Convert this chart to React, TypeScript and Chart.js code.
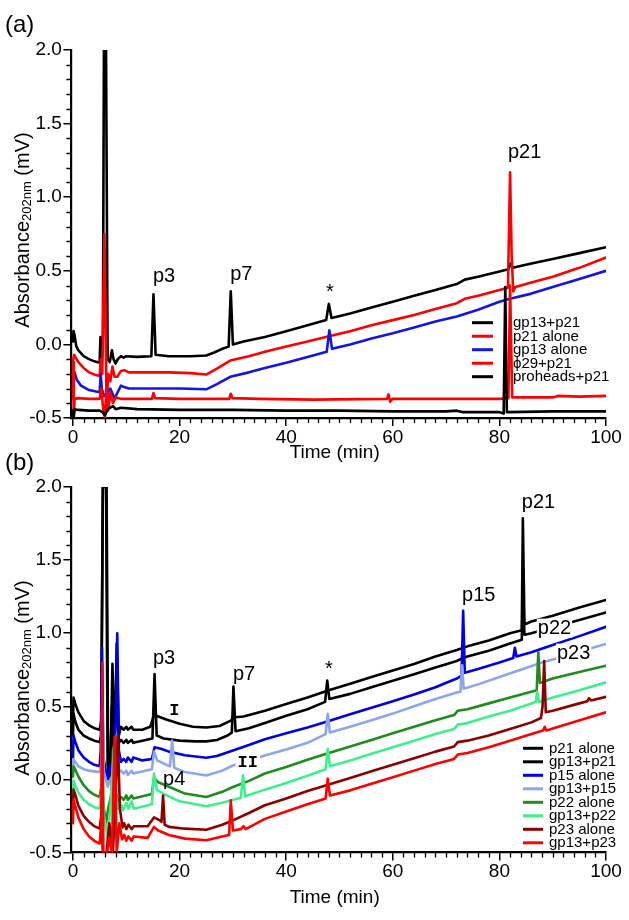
import React, { useEffect, useRef } from "react";
import { Chart, registerables } from "chart.js";
Chart.register(...registerables);

type Pt = [number, number];

// ---------------- axes ----------------
const xTickValues = [0, 20, 40, 60, 80, 100];
const yTickValues = [-0.5, 0, 0.5, 1.0, 1.5, 2.0];
const X_MINOR_STEP = 2;
const Y_MINOR_STEP = 0.1;

// ---------------- panel (a) data ----------------
const legendA = ["gp13+p21", "p21 alone", "gp13 alone", "\u03D529+p21", "proheads+p21"];

const a_gp13_p21: Pt[] = [
  [0, 0.02], [0.1, 0.09], [0.3, 0.06], [0.6, -0.01], [1, -0.04], [1.5, -0.06], [2, -0.08], [3, -0.1], [4, -0.115], [5, -0.125],
  [5.15, 0.05], [5.35, -0.1], [5.6, -0.05], [5.8, 2.0], [6.2, 2.0], [6.5, -0.1], [6.9, -0.12], [7.3, -0.04], [7.6, -0.1], [8, -0.13],
  [8.4, -0.1], [9, -0.08], [9.5, -0.09], [10, -0.08], [12, -0.085], [14.7, -0.08], [15.1, 0.34], [15.5, -0.07], [18, -0.08], [22, -0.08],
  [25, -0.075], [26.5, -0.055], [28, -0.03], [29.2, -0.015], [29.6, 0.36], [30, 0.0], [32, 0.02], [36, 0.05], [40, 0.09], [44, 0.13],
  [47.5, 0.165], [48, 0.275], [48.5, 0.18], [52, 0.21], [56, 0.25], [60, 0.29], [64, 0.33], [68, 0.37], [72, 0.41], [73.5, 0.44],
  [76, 0.46], [80, 0.495], [81.7, 0.51], [82.1, 0.55], [82.5, 0.52], [86, 0.55], [90, 0.58], [95, 0.62], [100, 0.66],
];
const a_p21_alone: Pt[] = [
  [0, -0.12], [0.2, -0.07], [0.5, -0.09], [1, -0.12], [2, -0.16], [3, -0.19], [4, -0.205], [5, -0.215], [5.2, -0.1], [5.5, -0.2],
  [5.9, 0.75], [6.1, 0.2], [6.3, -0.45], [6.6, -0.2], [7, -0.25], [7.4, -0.15], [7.8, -0.22], [8.3, -0.22], [9, -0.18], [9.6, -0.175],
  [10.5, -0.19], [14, -0.19], [18, -0.19], [22, -0.195], [25, -0.205], [27, -0.165], [29.5, -0.11], [33, -0.08], [36, -0.05], [40, -0.015],
  [44, 0.02], [48, 0.055], [52, 0.09], [56, 0.13], [60, 0.165], [64, 0.2], [68, 0.24], [72, 0.28], [73.5, 0.31], [76, 0.33],
  [80, 0.37], [81.6, 0.385], [82, 1.17], [82.3, 0.6], [82.6, 0.36], [83, 0.39], [86, 0.42], [90, 0.46], [95, 0.52], [100, 0.59],
];
const a_gp13_alone: Pt[] = [
  [0, -0.19], [0.3, -0.19], [0.7, -0.24], [1.5, -0.28], [3, -0.31], [5, -0.325], [5.2, -0.2], [5.4, -0.3], [5.8, -0.35], [6.4, -0.33],
  [7, -0.3], [7.8, -0.37], [8.3, -0.33], [9, -0.28], [9.6, -0.29], [10.5, -0.3], [15, -0.3], [20, -0.3], [25, -0.305], [27, -0.27],
  [29.5, -0.22], [33, -0.19], [36, -0.16], [40, -0.125], [44, -0.085], [47.6, -0.05], [48.1, 0.095], [48.6, -0.03], [52, 0.0], [56, 0.04],
  [60, 0.075], [64, 0.115], [68, 0.155], [72, 0.19], [76, 0.235], [80, 0.29], [82, 0.31], [86, 0.345], [90, 0.39], [95, 0.445], [100, 0.5],
];
const a_phi29_p21: Pt[] = [
  [0, -0.37], [0.05, -0.12], [0.15, -0.5], [0.3, -0.37], [1, -0.365], [3, -0.37], [5, -0.37], [5.3, -0.3], [5.7, -0.45], [6, -0.5],
  [6.3, -0.25], [6.6, -0.45], [7, -0.33], [7.5, -0.4], [8, -0.36], [9, -0.37], [14.8, -0.37], [15.1, -0.33], [15.4, -0.365], [20, -0.37],
  [25, -0.37], [29.3, -0.37], [29.6, -0.335], [29.9, -0.365], [35, -0.37], [45, -0.375], [58.9, -0.37], [59.2, -0.34], [59.5, -0.39], [59.9, -0.37],
  [70, -0.37], [80, -0.37], [81.7, -0.365], [82, 0.4], [82.4, -0.36], [90, -0.36], [91, -0.35], [95, -0.355], [100, -0.35],
];
const a_proheads_p21: Pt[] = [
  [0, -0.45], [0.1, -0.5], [0.3, -0.44], [1, -0.445], [3, -0.45], [5, -0.45], [5.5, -0.46], [6, -0.48], [6.5, -0.44], [7, -0.43],
  [7.5, -0.42], [8, -0.44], [9, -0.43], [12, -0.44], [20, -0.445], [30, -0.445], [40, -0.45], [50, -0.45], [60, -0.455], [70, -0.455],
  [72, -0.45], [73, -0.46], [80, -0.46], [80.8, -0.47], [81.1, 0.39], [81.4, -0.46], [81.8, -0.46], [90, -0.455], [100, -0.455],
];
const seriesA = [a_gp13_p21, a_p21_alone, a_gp13_alone, a_phi29_p21, a_proheads_p21];
const colorsA = ["#000000", "#ff0000", "#1414e6", "#ff0000", "#000000"];

// ---------------- panel (b) data ----------------
const legendB = ["p21 alone", "gp13+p21", "p15 alone", "gp13+p15", "p22 alone", "gp13+p22", "p23 alone", "gp13+p23"];

const b_p21_alone: Pt[] = [
  [0, 0.4], [0.1, 0.56], [0.4, 0.52], [1, 0.46], [2, 0.4], [3, 0.37], [4, 0.35], [5, 0.34], [5.3, 0.4], [5.6, 2.0], [6.3, 2.0],
  [6.6, 0.05], [7, 0.02], [7.4, 0.79], [7.8, 0.2], [8.2, 0.93], [8.6, 0.3], [9, 0.36], [9.5, 0.34], [10, 0.36], [10.3, 0.34], [11, 0.36],
  [11.3, 0.34], [13, 0.34], [14.5, 0.36], [15.2, 0.44], [16, 0.43], [17.5, 0.41], [20, 0.38], [22.5, 0.36], [25, 0.355], [27.5, 0.365],
  [29.5, 0.4], [30.3, 0.425], [32, 0.43], [36, 0.47], [40, 0.515], [44, 0.56], [48, 0.61], [52, 0.655], [56, 0.7], [60, 0.745],
  [64, 0.79], [68, 0.84], [72, 0.885], [74, 0.91], [78, 0.95], [82, 1.0], [84.2, 1.02], [84.4, 1.786], [84.7, 1.06], [86, 1.08],
  [90, 1.12], [95, 1.175], [100, 1.227],
];
const b_gp13_p21: Pt[] = [
  [0, 0.3], [0.1, 0.45], [0.4, 0.4], [1, 0.34], [2, 0.3], [3, 0.28], [4, 0.265], [5, 0.255], [5.3, 0.3], [5.6, 2.0], [6.2, 2.0],
  [6.5, 0.1], [6.9, 0.0], [7.3, 0.5], [7.7, 0.15], [8.1, 0.6], [8.6, 0.25], [9, 0.27], [9.5, 0.25], [10, 0.27], [10.3, 0.25], [11, 0.27],
  [11.3, 0.25], [14.9, 0.28], [15.3, 0.72], [15.7, 0.3], [17, 0.28], [20, 0.265], [23, 0.26], [25, 0.26], [27, 0.27], [29, 0.3],
  [29.8, 0.32], [30.1, 0.635], [30.5, 0.33], [33, 0.35], [36, 0.385], [40, 0.435], [44, 0.48], [47.3, 0.53], [47.7, 0.676], [48.1, 0.55],
  [52, 0.585], [56, 0.63], [60, 0.675], [64, 0.72], [68, 0.765], [72, 0.81], [73.2, 0.83], [74, 0.84], [78, 0.88], [82, 0.93],
  [84.2, 0.955], [84.4, 1.3], [84.7, 0.99], [86, 1.0], [90, 1.04], [95, 1.09], [100, 1.142],
];
const b_p15_alone: Pt[] = [
  [0, 0.15], [0.1, 0.3], [0.4, 0.26], [1, 0.2], [2, 0.15], [3, 0.12], [4, 0.1], [5, 0.09], [5.2, 0.2], [5.45, 0.9], [5.7, 0.15],
  [6.2, 0.05], [6.6, 0.0], [7, 0.1], [7.5, 0.05], [8, 0.4], [8.3, 1.0], [8.6, 0.2], [9, 0.12], [9.5, 0.14], [10, 0.12], [10.3, 0.15],
  [11, 0.12], [11.3, 0.15], [13, 0.13], [14.8, 0.14], [15.3, 0.22], [16.5, 0.21], [18, 0.19], [21, 0.165], [25, 0.148], [27, 0.16],
  [30, 0.198], [33, 0.235], [36, 0.275], [40, 0.315], [44, 0.355], [48, 0.4], [52, 0.445], [56, 0.49], [60, 0.535], [64, 0.58],
  [68, 0.63], [72, 0.69], [72.9, 0.71], [73.2, 1.154], [73.5, 0.73], [76, 0.755], [80, 0.8], [82.6, 0.83], [82.9, 0.9], [83.2, 0.84],
  [86, 0.87], [90, 0.92], [95, 0.98], [100, 1.044],
];
const b_gp13_p15: Pt[] = [
  [0, 0.05], [0.1, 0.14], [0.4, 0.12], [1, 0.09], [2, 0.07], [3, 0.06], [4, 0.055], [5, 0.05], [5.3, 0.1], [5.5, 0.5], [5.8, 0.05],
  [6.5, -0.05], [7, 0.0], [7.8, 0.05], [8.2, 0.3], [8.6, 0.05], [9, 0.06], [9.5, 0.04], [10, 0.06], [10.3, 0.03], [11, 0.06], [11.3, 0.04],
  [14.8, 0.07], [15.2, 0.19], [15.8, 0.13], [17.5, 0.1], [18.2, 0.09], [18.6, 0.266], [19, 0.08], [21, 0.05], [25, 0.027], [28, 0.06],
  [30, 0.095], [33, 0.13], [36, 0.164], [40, 0.205], [44, 0.25], [47.4, 0.31], [47.8, 0.448], [48.2, 0.32], [52, 0.36], [56, 0.405],
  [60, 0.45], [64, 0.5], [68, 0.55], [72, 0.595], [72.7, 0.6], [73, 0.78], [73.3, 0.62], [76, 0.65], [80, 0.7], [84, 0.75], [88, 0.8],
  [92, 0.84], [96, 0.885], [100, 0.926],
];
const b_p22_alone: Pt[] = [
  [0, 0.02], [0.1, 0.09], [0.4, 0.07], [1, 0.02], [2, -0.04], [3, -0.08], [4, -0.105], [5, -0.12], [5.3, -0.05], [5.6, -0.15],
  [6.2, -0.3], [6.6, -0.2], [7.2, -0.1], [7.5, 0.2], [7.8, -0.05], [8.4, -0.15], [9, -0.12], [9.5, -0.14], [10, -0.11], [10.3, -0.14],
  [11, -0.11], [11.3, -0.13], [14.8, -0.1], [15.2, 0.01], [16, -0.02], [18, -0.05], [21, -0.097], [25, -0.12], [28, -0.085], [30, -0.052],
  [33, -0.01], [36, 0.04], [40, 0.085], [44, 0.135], [48, 0.18], [52, 0.225], [56, 0.27], [60, 0.315], [64, 0.36], [68, 0.405],
  [71.5, 0.44], [72.2, 0.47], [74, 0.48], [78, 0.52], [82, 0.56], [86, 0.6], [87, 0.61], [87.3, 0.869], [87.6, 0.66], [90, 0.69],
  [95, 0.735], [100, 0.778],
];
const b_gp13_p22: Pt[] = [
  [0, -0.1], [0.1, -0.01], [0.4, -0.04], [1, -0.09], [2, -0.14], [3, -0.17], [4, -0.19], [5, -0.2], [5.3, -0.1], [5.5, 0.1],
  [5.8, -0.25], [6.5, -0.4], [7, -0.2], [7.7, 0.22], [8, -0.1], [8.5, -0.2], [9, -0.17], [9.4, -0.21], [10, -0.16], [10.4, -0.2],
  [11, -0.15], [11.4, -0.2], [14.8, -0.17], [15.2, 0.04], [15.7, -0.07], [17, -0.1], [20, -0.15], [25, -0.184], [28, -0.16], [31.5, -0.125],
  [31.9, 0.028], [32.3, -0.115], [36, -0.07], [40, -0.025], [44, 0.025], [47.4, 0.07], [47.8, 0.209], [48.2, 0.09], [52, 0.13], [56, 0.175],
  [60, 0.22], [64, 0.265], [68, 0.31], [71.5, 0.345], [72.2, 0.375], [74, 0.385], [78, 0.43], [82, 0.47], [86.8, 0.53], [87.1, 0.6],
  [87.4, 0.53], [90, 0.56], [95, 0.61], [100, 0.664],
];
const b_p23_alone: Pt[] = [
  [0, -0.2], [0.1, -0.07], [0.4, -0.1], [1, -0.18], [2, -0.25], [3, -0.29], [4, -0.32], [5, -0.337], [5.3, -0.25], [5.6, -0.5],
  [6.3, -0.5], [6.8, -0.3], [7.5, -0.5], [8.1, 0.0], [8.4, 0.3], [8.8, -0.2], [9.3, -0.33], [9.6, -0.3], [10, -0.34], [10.4, -0.31],
  [11, -0.34], [11.4, -0.32], [14, -0.32], [15.2, -0.26], [16.3, -0.28], [16.6, -0.29], [16.9, -0.11], [17.2, -0.31], [18, -0.325], [21, -0.337],
  [25, -0.344], [28, -0.31], [30, -0.28], [33, -0.23], [36, -0.177], [40, -0.13], [44, -0.08], [48, -0.035], [52, 0.01], [56, 0.055],
  [60, 0.1], [64, 0.145], [68, 0.19], [71.5, 0.225], [72.2, 0.255], [74, 0.265], [78, 0.3], [82, 0.345], [86, 0.39], [87.8, 0.42],
  [88.1, 0.5], [88.4, 0.81], [88.7, 0.46], [90, 0.47], [95, 0.52], [96.5, 0.535], [96.8, 0.555], [97.2, 0.54], [100, 0.565],
];
const b_gp13_p23: Pt[] = [
  [0, -0.3], [0.1, -0.14], [0.4, -0.18], [1, -0.26], [2, -0.34], [3, -0.39], [4, -0.42], [5, -0.44], [5.3, -0.3], [5.5, 0.8],
  [5.7, -0.5], [6.4, -0.5], [6.8, -0.4], [7.3, -0.5], [7.8, 0.29], [8.2, -0.5], [8.7, -0.3], [9.2, -0.41], [9.6, -0.38], [10, -0.42],
  [10.4, -0.39], [11, -0.42], [11.4, -0.39], [14, -0.4], [15.2, -0.325], [16, -0.35], [18, -0.38], [21, -0.405], [25, -0.416], [28, -0.39],
  [29.3, -0.38], [29.6, -0.143], [30, -0.35], [31.5, -0.34], [32, -0.32], [32.4, -0.34], [36, -0.27], [40, -0.22], [44, -0.17], [47.4, -0.13],
  [47.8, 0.005], [48.2, -0.11], [52, -0.075], [56, -0.03], [60, 0.015], [64, 0.06], [68, 0.105], [71.5, 0.14], [72.2, 0.17], [74, 0.18],
  [78, 0.22], [82, 0.265], [86, 0.31], [88.2, 0.335], [88.5, 0.36], [88.8, 0.335], [92, 0.37], [96, 0.415], [100, 0.459],
];
const seriesB = [b_p21_alone, b_gp13_p21, b_p15_alone, b_gp13_p15, b_p22_alone, b_gp13_p22, b_p23_alone, b_gp13_p23];
const colorsB = ["#000000", "#000000", "#0000e6", "#8ca5f0", "#1e8c1e", "#3cf08c", "#8c0000", "#ff0000"];

// ---------------- annotations ----------------
type Annot = { text: string; x: number; y: number; font?: string; center?: boolean; bg?: boolean };
const annotA: Annot[] = [
  { text: "p3", x: 15.0, y: 0.424 },
  { text: "p7", x: 29.5, y: 0.435 },
  { text: "*", x: 48.2, y: 0.355, center: true },
  { text: "p21", x: 81.6, y: 1.265 },
];
const annotB: Annot[] = [
  { text: "p3", x: 15.0, y: 0.79 },
  { text: "p7", x: 30.0, y: 0.68 },
  { text: "I", x: 19.0, y: 0.47, center: true, font: "bold 17px 'Liberation Mono'" },
  { text: "II", x: 32.8, y: 0.116, center: true, bg: true, font: "bold 17px 'Liberation Mono'" },
  { text: "p4", x: 16.9, y: -0.041 },
  { text: "*", x: 48.0, y: 0.75, center: true },
  { text: "p15", x: 73.0, y: 1.222 },
  { text: "p21", x: 84.2, y: 1.857 },
  { text: "p22", x: 87.2, y: 0.997, bg: true },
  { text: "p23", x: 90.8, y: 0.826, bg: true },
];

const FONT = "'Liberation Sans', Arial, sans-serif";

type Geom = {
  height: number;
  top: number;
  xAxisHeight: number;
  panelLabel: string;
  panelLabelY: number;
  yTitleY: number;
  xTitleY: number;
  legendTop: number;
  legendLineX: [number, number];
  legendTextX: number;
};

function makeDecor(geom: Geom, annots: Annot[], labels: string[], colors: string[]) {
  return {
    id: "decor",
    afterDraw(chart: any) {
      const ctx: CanvasRenderingContext2D = chart.ctx;
      const xs = chart.scales.x;
      const ys = chart.scales.y;
      const area = chart.chartArea;
      ctx.save();
      // minor ticks
      ctx.strokeStyle = "#000";
      ctx.lineWidth = 1.3;
      ctx.beginPath();
      for (let v = 0; v <= 100 + 1e-9; v += X_MINOR_STEP) {
        if (xTickValues.some((t) => Math.abs(t - v) < 1e-6)) continue;
        const px = Math.round(xs.getPixelForValue(v)) + 0.5;
        ctx.moveTo(px, area.bottom);
        ctx.lineTo(px, area.bottom + 5);
      }
      for (let k = -5; k <= 20; k++) {
        const v = k * Y_MINOR_STEP;
        if (yTickValues.some((t) => Math.abs(t - v) < 1e-6)) continue;
        const py = Math.round(ys.getPixelForValue(v)) + 0.5;
        ctx.moveTo(area.left - 5, py);
        ctx.lineTo(area.left, py);
      }
      ctx.stroke();

      // annotations
      ctx.fillStyle = "#000";
      for (const a of annots) {
        ctx.font = a.font || `20px ${FONT}`;
        const px = xs.getPixelForValue(a.x);
        const py = ys.getPixelForValue(a.y);
        const w = ctx.measureText(a.text).width;
        if (a.center) {
          ctx.textAlign = "center";
          ctx.textBaseline = "middle";
          if (a.bg) {
            ctx.fillStyle = "#fff";
            ctx.fillRect(px - w / 2 - 2, py - 9, w + 4, 18);
            ctx.fillStyle = "#000";
          }
          ctx.fillText(a.text, px, py);
        } else {
          ctx.textAlign = "left";
          ctx.textBaseline = "alphabetic";
          if (a.bg) {
            ctx.fillStyle = "#fff";
            ctx.fillRect(px - 1, py - 15, w + 2, 19);
            ctx.fillStyle = "#000";
          }
          ctx.fillText(a.text, px, py);
        }
      }

      // legend
      ctx.font = `15px ${FONT}`;
      ctx.textAlign = "left";
      ctx.textBaseline = "middle";
      labels.forEach((lab, i) => {
        const y = geom.legendTop + i * 13.5;
        ctx.strokeStyle = colors[i];
        ctx.lineWidth = 3;
        ctx.beginPath();
        ctx.moveTo(geom.legendLineX[0], y);
        ctx.lineTo(geom.legendLineX[1], y);
        ctx.stroke();
        ctx.fillStyle = "#000";
        ctx.fillText(lab, geom.legendTextX, y + 0.5);
      });

      // x title
      ctx.font = `19px ${FONT}`;
      ctx.textAlign = "center";
      ctx.textBaseline = "middle";
      ctx.fillText("Time (min)", (area.left + area.right) / 2 - 4, geom.xTitleY);

      // panel label
      ctx.font = `24px ${FONT}`;
      ctx.textAlign = "left";
      ctx.fillText(geom.panelLabel, 5, geom.panelLabelY);

      // y title with subscript
      ctx.translate(29, geom.yTitleY);
      ctx.rotate(-Math.PI / 2);
      const mainF = `20px ${FONT}`;
      const subF = `13px ${FONT}`;
      ctx.font = mainF;
      const w1 = ctx.measureText("Absorbance").width;
      const w3 = ctx.measureText(" (mV)").width;
      ctx.font = subF;
      const w2 = ctx.measureText("202nm").width;
      let x = -(w1 + w2 + w3) / 2;
      ctx.textAlign = "left";
      ctx.textBaseline = "alphabetic";
      ctx.font = mainF;
      ctx.fillText("Absorbance", x, 0);
      x += w1;
      ctx.font = subF;
      ctx.fillText("202nm", x, 2);
      x += w2;
      ctx.font = mainF;
      ctx.fillText(" (mV)", x, 0);
      ctx.restore();
    },
  };
}

function Panel(props: { series: Pt[][]; colors: string[]; labels: string[]; annots: Annot[]; geom: Geom; top: number }) {
  const ref = useRef<HTMLCanvasElement | null>(null);
  const { series, colors, labels, annots, geom, top } = props;
  useEffect(() => {
    if (!ref.current) return;
    const n = series.length;
    const chart = new Chart(ref.current, {
      type: "line",
      data: {
        datasets: series.map((s, i) => ({
          label: labels[i],
          data: s.map(([x, y]) => ({ x, y })),
          borderColor: colors[i],
          backgroundColor: colors[i],
          borderWidth: 2.6,
          pointRadius: 0,
          tension: 0,
          fill: false,
          order: n - i,
          borderJoinStyle: "round",
          borderCapStyle: "round",
        })),
      },
      options: {
        responsive: false,
        animation: false,
        events: [],
        layout: { padding: { top: geom.top, right: 23, left: 0, bottom: 0 } },
        plugins: { legend: { display: false }, tooltip: { enabled: false } },
        scales: {
          x: {
            type: "linear",
            min: -0.3,
            max: 100,
            afterBuildTicks: (s: any) => {
              s.ticks = xTickValues.map((v) => ({ value: v }));
            },
            afterFit: (s: any) => {
              s.height = geom.xAxisHeight;
            },
            grid: { display: true, drawOnChartArea: false, drawTicks: true, tickLength: 8, color: "#000", lineWidth: 1.5 },
            border: { display: true, color: "#000", width: 2.2 },
            ticks: {
              font: { family: FONT, size: 19 },
              color: "#000",
              padding: 0,
              maxRotation: 0,
              autoSkip: false,
              callback: (v: any) => String(v),
            },
          },
          y: {
            type: "linear",
            min: -0.5,
            max: 2.0,
            afterBuildTicks: (s: any) => {
              s.ticks = yTickValues.map((v) => ({ value: v }));
            },
            afterFit: (s: any) => {
              s.width = 71.4;
            },
            grid: { display: true, drawOnChartArea: false, drawTicks: true, tickLength: 8, color: "#000", lineWidth: 1.5 },
            border: { display: true, color: "#000", width: 2.2 },
            ticks: {
              font: { family: FONT, size: 19 },
              color: "#000",
              padding: 1.5,
              autoSkip: false,
              callback: (v: any) => Number(v).toFixed(1),
            },
          },
        },
      },
      plugins: [makeDecor(geom, annots, labels, colors)],
    } as any);
    return () => chart.destroy();
  }, []);
  return (
    <div style={{ position: "absolute", left: 0, top, width: 629, height: geom.height }}>
      <canvas ref={ref} width={629} height={geom.height} style={{ width: 629, height: geom.height, display: "block" }} />
    </div>
  );
}

const geomA: Geom = {
  height: 465,
  top: 50,
  xAxisHeight: 47,
  panelLabel: "(a)",
  panelLabelY: 25,
  yTitleY: 230,
  xTitleY: 453,
  legendTop: 322.7,
  legendLineX: [472, 493],
  legendTextX: 513,
};
const geomB: Geom = {
  height: 480,
  top: 47,
  xAxisHeight: 67.5,
  panelLabel: "(b)",
  panelLabelY: 23,
  yTitleY: 238,
  xTitleY: 458,
  legendTop: 308.3,
  legendLineX: [523, 543],
  legendTextX: 549,
};

export default function App() {
  return (
    <div style={{ position: "absolute", left: 0, top: 0, width: 629, height: 920, background: "#fff" }}>
      <Panel series={seriesA} colors={colorsA} labels={legendA} annots={annotA} geom={geomA} top={0} />
      <Panel series={seriesB} colors={colorsB} labels={legendB} annots={annotB} geom={geomB} top={440} />
    </div>
  );
}
